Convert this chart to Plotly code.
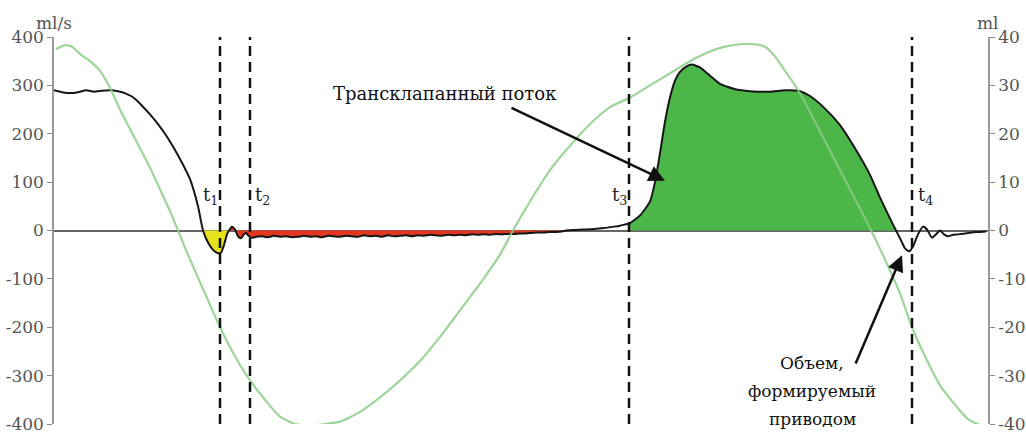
import numpy as np
import plotly.graph_objects as go

# Time axis in ms over one pump cycle
flow_t = [0, 8, 16, 24, 32, 40, 48, 56, 64, 72, 80, 88, 96, 104, 112, 120, 128, 136, 144,
          149, 154, 159, 164, 167, 170, 173, 175, 178, 181, 184, 187, 190, 192, 195, 198, 202, 208,
          214, 220, 226, 232, 238, 244, 250, 256, 262, 268, 274, 280, 286, 292, 298, 304, 310,
          316, 322, 328, 334, 340, 346, 352, 358, 364, 370, 376, 382, 388, 394, 400, 406, 412,
          418, 424, 430, 436, 442, 448, 454, 460, 466, 472, 478, 484, 490, 496, 502, 508, 512,
          520, 530, 540, 550, 560, 566, 572, 575, 586, 596, 601, 606, 611, 616, 621, 626, 633,
          638, 646, 656, 666, 681, 696, 716, 731, 746, 756, 771, 786, 801, 816, 826, 836, 842,
          846, 851, 855, 859, 864, 869, 873, 878, 882, 886, 890, 894, 899, 904, 911, 918, 926, 932]
# Transvalvular flow, ml/s
flow_q = [290, 286, 284, 286, 290, 287, 289, 290, 288, 283, 274, 258, 240, 220, 197, 170, 140, 106, 50,
          0, -25, -40, -47, -46, -30, -8, 0, 8, 2, -12, -16, -8, -5, -12, -15, -13, -12,
          -14, -11, -13, -12, -14, -13, -11, -13, -12, -14, -11, -12, -13, -11, -12, -13, -10,
          -12, -11, -13, -10, -12, -11, -10, -12, -10, -11, -9, -10, -11, -9, -10, -9, -10,
          -8, -9, -8, -9, -7, -8, -7, -7, -6, -6, -5, -4, -4, -3, -3, -2, 0,
          1, 2, 3, 5, 8, 10, 13, 14, 31, 60, 100, 160, 225, 275, 310, 328, 340,
          343, 337, 320, 303, 292, 288, 287, 290, 288, 278, 252, 218, 170, 115, 68, 25, 0,
          -16, -37, -43, -33, -8, 8, 2, -15, -8, 0, -8, -12, -9, -8, -6, -4, -3, -2]

# Volume displaced by the drive, ml
vol_t = [2, 11, 18, 26, 36, 46, 56, 66, 76, 86, 96, 106, 116, 124, 136, 151, 166, 181, 196,
         211, 226, 241, 256, 271, 286, 306, 326, 346, 366, 386, 406, 426, 446, 459, 476, 496,
         516, 536, 556, 576, 596, 616, 636, 656, 671, 686, 701, 711, 721, 731, 741, 751, 761,
         771, 786, 801, 816, 831, 846, 858, 871, 886, 901, 914, 926, 934]
vol_v = [37.5, 38.3, 38, 36.5, 35, 33, 29.5, 25, 21, 17, 13, 8.5, 4, 0, -6, -13, -20, -26, -31,
         -35, -38.5, -40, -40.3, -40, -39.5, -37.5, -34.5, -31, -27, -22, -16.5, -11, -5, 0, 6, 12.5,
         17.5, 22, 25.5, 27.5, 30, 32.5, 35, 37, 38, 38.5, 38.5, 38, 36, 33, 30, 26.5, 22.5,
         18.5, 12.5, 6.5, 0.5, -6, -13, -20, -26, -32, -36, -39, -40.2, -40.3]

# Axis ticks
flow_ticks = [-400, -300, -200, -100, 0, 100, 200, 300, 400]
flow_tick_text = ["-400", "-300", "-200", "-100", "0", "100", "200", "300", "400"]
vol_ticks = [-40, -30, -20, -10, 0, 10, 20, 30, 40]
vol_tick_text = ["-40", "-30", "-20", "-10", "0", "10", "20", "30", "40"]

# Phase markers t1..t4 and the fill intervals
marker_t = [166, 196, 575, 858]
marker_names = ["t<sub>1</sub>", "t<sub>2</sub>", "t<sub>3</sub>", "t<sub>4</sub>"]
yellow_span = (149, 175)
red_span = (175, 512)
green_span = (575, 842)

# Caption lines for the drive-volume callout
volume_caption = ["Объем,", "формируемый", "приводом"]
caption_y = [-273, -331, -389]

SERIF = "DejaVu Serif"
ft = np.array(flow_t, dtype=float)
fq = np.array(flow_q, dtype=float)

fig = go.Figure()

def add_fill(span, color):
    m = (ft >= span[0]) & (ft <= span[1])
    fig.add_trace(go.Scatter(x=ft[m], y=fq[m], mode="lines", fill="tozeroy",
                             fillcolor=color, line=dict(width=0, shape="spline", smoothing=0.5),
                             hoverinfo="skip", showlegend=False))

add_fill(yellow_span, "#e6e31c")
add_fill(red_span, "#e4361e")
add_fill(green_span, "#4cb748")

# Volume curve (right axis)
fig.add_trace(go.Scatter(x=vol_t, y=vol_v, yaxis="y2", mode="lines",
                         line=dict(color="rgba(140,205,135,0.85)", width=2.2, shape="spline", smoothing=0.6),
                         showlegend=False))

# Flow curve (left axis)
fig.add_trace(go.Scatter(x=flow_t, y=flow_q, mode="lines",
                         line=dict(color="#161616", width=2, shape="spline", smoothing=0.5),
                         showlegend=False))

for tm in marker_t:
    fig.add_shape(type="line", xref="x", yref="paper", x0=tm, x1=tm, y0=0, y1=1,
                  line=dict(color="#111111", width=2.5, dash="10px,6px"), layer="above")

label_dx = [-10, 12, -10, 13]
for tm, name, dx in zip(marker_t, marker_names, label_dx):
    fig.add_annotation(x=tm, y=72, xref="x", yref="y", text=name, showarrow=False,
                       xshift=dx, font=dict(family=SERIF, size=18, color="#222222"))

fig.add_annotation(x=391, y=284, xref="x", yref="y", text="Трансклапанный поток",
                   showarrow=False, font=dict(family=SERIF, size=18, color="#111111"))
fig.add_annotation(x=611, y=103, ax=456, ay=255, xref="x", yref="y", axref="x", ayref="y",
                   text="", showarrow=True, arrowhead=2, arrowsize=1.3, arrowwidth=2.5,
                   arrowcolor="#111111", standoff=0)

for line, cy in zip(volume_caption, caption_y):
    fig.add_annotation(x=758, y=cy, xref="x", yref="y", text=line, showarrow=False,
                       font=dict(family=SERIF, size=17, color="#111111"))
fig.add_annotation(x=848, y=-51, ax=801, ay=-278, xref="x", yref="y", axref="x", ayref="y",
                   text="", showarrow=True, arrowhead=2, arrowsize=1.3, arrowwidth=2.5,
                   arrowcolor="#111111", standoff=0)

fig.add_annotation(x=0, y=1, xref="paper", yref="paper", text="ml/s", showarrow=False,
                   xanchor="center", yanchor="bottom", yshift=2,
                   font=dict(family=SERIF, size=17, color="#555555"))
fig.add_annotation(x=1, y=1, xref="paper", yref="paper", text="ml", showarrow=False,
                   xanchor="center", yanchor="bottom", yshift=2,
                   font=dict(family=SERIF, size=17, color="#555555"))

axis_style = dict(showgrid=False, ticks="outside", ticklen=5, tickwidth=1.3, tickcolor="#888888",
                  showline=True, linecolor="#999999", linewidth=1.5, automargin=False,
                  ticklabeloverflow="allow",
                  tickfont=dict(family=SERIF, size=17, color="#555555"))

fig.update_layout(
    width=1026, height=433,
    margin=dict(l=54, r=38, t=37, b=9),
    paper_bgcolor="white", plot_bgcolor="white",
    font=dict(family=SERIF),
    xaxis=dict(range=[0, 934], visible=False),
    yaxis=dict(range=[-400, 400], tickvals=flow_ticks, ticktext=flow_tick_text,
               zeroline=True, zerolinecolor="#666666", zerolinewidth=1.5, **axis_style),
    yaxis2=dict(range=[-40, 40], tickvals=vol_ticks, ticktext=vol_tick_text, overlaying="y",
                side="right", zeroline=False, **axis_style),
)

fig.write_html("out.html")
